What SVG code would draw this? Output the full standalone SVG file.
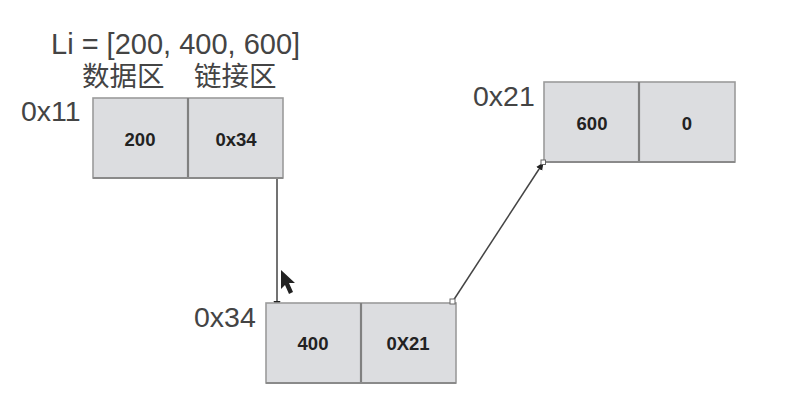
<svg xmlns="http://www.w3.org/2000/svg" width="788" height="404" viewBox="0 0 788 404">
<defs>
<style>
.cell{fill:#dcdde0;stroke:#9b9b9b;stroke-width:1.6}
.div{fill:none;stroke:#808080;stroke-width:2.2}
.base{fill:none;stroke:#8a8a8a;stroke-width:2}
.v{font:bold 18.5px "Liberation Sans",Arial,sans-serif;fill:#222;text-anchor:middle}
.a{font:29px "Liberation Sans",Arial,sans-serif;fill:#444}
.a2{font:28.5px "Liberation Sans",Arial,sans-serif;fill:#444}
.c{font:27.5px "Liberation Sans","Noto Sans CJK SC",sans-serif;fill:#444}
.conn{fill:none;stroke:#444;stroke-width:1.5}
.h{fill:#fff;stroke:#666;stroke-width:1}
</style>
<marker id="arr" markerWidth="8" markerHeight="8" refX="7" refY="4" orient="auto" markerUnits="userSpaceOnUse"><path d="M0,0.5L8,4L0,7.5Z" fill="#222"/></marker>
</defs>
<rect width="788" height="404" fill="#fff"/>
<text class="a" x="51" y="54">Li = [200, 400, 600]</text>
<text class="c" x="82" y="86">数据区</text>
<text class="c" x="194" y="86">链接区</text>
<g id="connectors">
<path class="conn" d="M277 179V308" marker-end="url(#arr)"/>
<path class="conn" d="M453 301L543 163" marker-end="url(#arr)"/>
</g>
<g id="node-0x11">
<text class="a2" x="21" y="121">0x11</text>
<rect class="cell" x="93" y="98" width="190" height="80"/>
<path class="div" d="M188 98V178"/>
<path class="base" d="M93 178H283"/>
<text class="v" x="140" y="146">200</text>
<text class="v" x="236" y="146">0x34</text>
</g>
<g id="node-0x34">
<text class="a2" x="194" y="327">0x34</text>
<rect class="cell" x="266" y="303" width="190" height="80"/>
<path class="div" d="M361 303V383"/>
<path class="base" d="M266 383H456"/>
<text class="v" x="313" y="350">400</text>
<text class="v" x="408" y="350">0X21</text>
</g>
<g id="node-0x21">
<text class="a2" x="473" y="106">0x21</text>
<rect class="cell" x="544" y="82" width="191" height="80"/>
<path class="div" d="M639 82V162"/>
<path class="base" d="M544 162H735"/>
<text class="v" x="592" y="130">600</text>
<text class="v" x="687" y="130">0</text>
</g>
<g id="handles">
<rect class="h" x="450" y="299" width="5" height="5"/>
<rect class="h" x="541" y="160" width="4.500" height="4.500"/>
</g>
<path id="cursor" d="M281 270L281 289L285 285L289 294L293 292L289 283L295 283Z" fill="#222"/>
</svg>
